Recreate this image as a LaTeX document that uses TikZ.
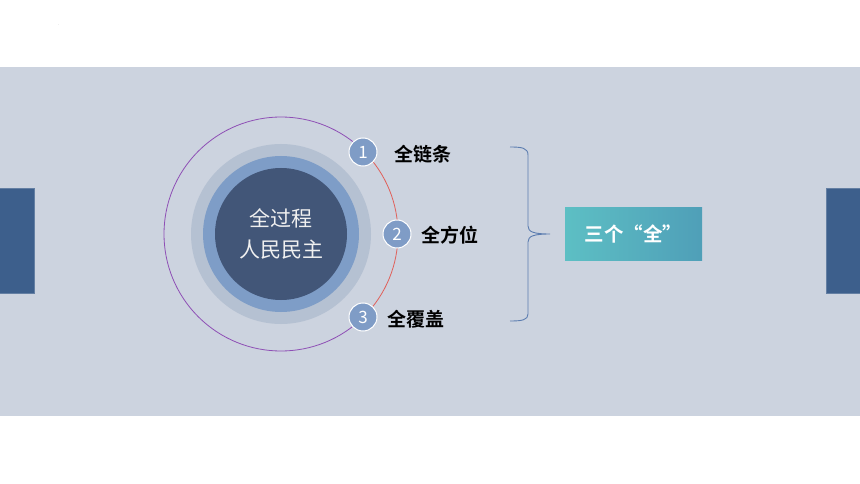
\documentclass[tikz,border=0pt]{standalone}
\usepackage{fontspec}
\newfontfamily\cjk{Noto Sans CJK SC}
\newfontfamily\cjkb{Noto Sans CJK SC Bold}
\usetikzlibrary{decorations.pathreplacing,shadings}
\definecolor{band}{HTML}{CCD3DF}
\definecolor{sidebox}{HTML}{3D5F8C}
\definecolor{ringgray}{HTML}{B5C1D2}
\definecolor{ringblue}{HTML}{7E9DC7}
\definecolor{core}{HTML}{425678}
\definecolor{badge}{HTML}{7F9CC6}
\definecolor{arcpurple}{HTML}{8E4FB5}
\definecolor{arcred}{HTML}{E0605A}
\definecolor{bracec}{HTML}{5C7DB0}
\definecolor{tealA}{HTML}{5DBFC4}
\definecolor{tealB}{HTML}{4F9FB8}
\tikzset{
  sidebar/.style={fill=sidebox,draw=sidebox!80!white,line width=0.6pt},
  badgenode/.style={circle,fill=badge,draw=white,line width=1pt,minimum size=28pt,inner sep=0pt,text=white,font=\cjk\fontsize{17}{17}\selectfont},
  itemlabel/.style={font=\cjkb\fontsize{19}{19}\selectfont,text=black,anchor=west,inner sep=0pt},
}
\begin{document}
\begin{tikzpicture}[x=1pt,y=-1pt]
\useasboundingbox (0,0) rectangle (860,484);
\fill[white] (0,0) rectangle (860,484);
\fill[band] (0,67) rectangle (860,416);
\node[font=\fontsize{4}{4}\selectfont,text=gray,inner sep=0pt] (dot) at (59,25) {.};
% side bars
\draw[sidebar] (-1,188) rectangle (34,293);
\draw[sidebar] (826,188) rectangle (861,293);
% outer circle arcs
\coordinate (c) at (281,234);
\draw[arcpurple,line width=0.8pt] (c) ++(45:117) arc[start angle=45,end angle=315,radius=117];
\draw[arcred,line width=0.8pt] (c) ++(-45:117) arc[start angle=-45,end angle=45,radius=117];
% rings
\fill[ringgray] (c) circle[radius=90];
\fill[ringblue] (c) circle[radius=78];
\fill[core] (c) circle[radius=66];
\node[font=\cjk\fontsize{21}{31}\selectfont,text=white!88!gray,align=center] (core) at (281,234) {全过程\\人民民主};
% badges
\node[badgenode] (b1) at (363,152) {1};
\node[badgenode] (b2) at (397,234) {2};
\node[badgenode] (b3) at (363,317) {3};
\node[itemlabel] (l1) at (394,154) {全链条};
\node[itemlabel] (l2) at (421,235) {全方位};
\node[itemlabel] (l3) at (387,319) {全覆盖};
% brace
\coordinate (bt) at (510,147);
\coordinate (bb) at (510,321);
\draw[bracec,line width=0.9pt] (bt) .. controls (522,147) and (528,148) .. (528,155)
  -- (528,226) .. controls (528,232) and (534,234) .. (550,234)
  .. controls (534,234) and (528,236) .. (528,242)
  -- (528,314) .. controls (528,320) and (522,321) .. (bb);
\coordinate (tip) at (550,234);
% result box
\shade[left color=tealA,right color=tealB] (565,208) rectangle (702,260);
\node[font=\cjkb\fontsize{19.5}{19.5}\selectfont,text=white] (res) at (633.5,234) {三个“全”};
\end{tikzpicture}
\end{document}
